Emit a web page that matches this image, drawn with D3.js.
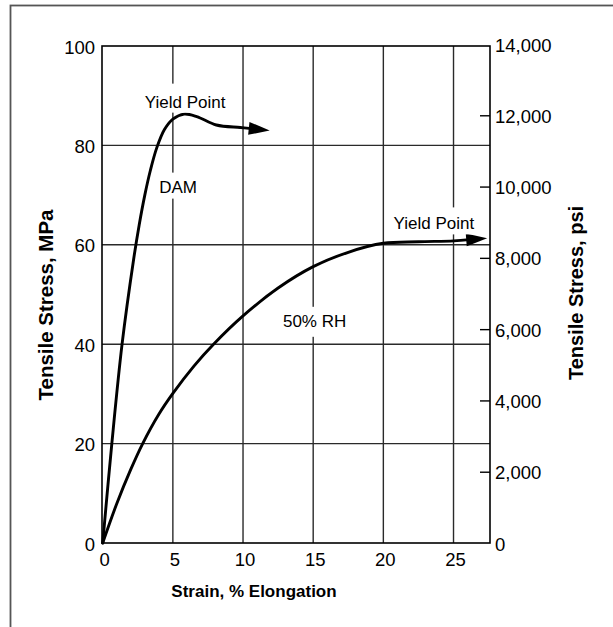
<!DOCTYPE html>
<html>
<head>
<meta charset="utf-8">
<script src="https://cdn.jsdelivr.net/npm/d3@7"></script>
<style>
  html, body { margin: 0; padding: 0; background: #fff; }
  svg { display: block; }
  text { font-family: "Liberation Sans", Arial, Helvetica, sans-serif; fill: #000; }
</style>
</head>
<body>
<svg id="chart" width="613" height="627"></svg>
<script>
// ---------- data ----------
const strainTicks = [0, 5, 10, 15, 20, 25];
const mpaTicks = [0, 20, 40, 60, 80, 100];
const psiTicks = [0, 2000, 4000, 6000, 8000, 10000, 12000, 14000];

const damStrain = [0, 0.65, 1.38, 2.2, 2.6, 3.0, 3.4, 3.85, 4.4, 5.0, 5.8, 6.7, 8.1, 9.8, 11.9];
const damStress = [0, 20, 40, 57, 64, 70, 75, 79.5, 83.2, 85.3, 86.3, 85.8, 84.1, 83.6, 83.0];

const rhStrain = [0, 1.0, 2.0, 2.85, 4.0, 5.0, 6.5, 7.9, 10.0, 12.5, 15.0, 17.5, 20.0, 22.5, 25.0, 27.4];
const rhStress = [0, 7.9, 14.8, 20, 25.9, 30.1, 35.6, 40, 45.7, 51.3, 55.6, 58.5, 60.3, 60.6, 60.8, 61.3];

const labelTexts = ["Yield Point", "DAM", "Yield Point", "50% RH"];
const labelStrain = [5.87, 5.37, 23.6, 15.1];
const labelStress = [87.6, 70.5, 63.1, 43.5];

const xTitle = "Strain, % Elongation";
const yLeftTitle = "Tensile Stress, MPa";
const yRightTitle = "Tensile Stress, psi";

// ---------- layout ----------
const svg = d3.select("#chart");
const pL = 102, pR = 490, pT = 46, pB = 543;

const x = d3.scaleLinear().domain([-0.05, 27.6]).range([pL, pR]);
const y = d3.scaleLinear().domain([0, 100]).range([pB, pT]);
const yPsi = d3.scaleLinear().domain([0, 14000]).range([pB, 44]);

// outer frame
svg.append("rect")
  .attr("x", 10.5).attr("y", 5.5).attr("width", 800).attr("height", 800)
  .attr("fill", "none").attr("stroke", "#555").attr("stroke-width", 1.8);

// gridlines
const grid = svg.append("g").attr("stroke", "#2a2a2a").attr("stroke-width", 1.4);
grid.selectAll("line.v").data(strainTicks.filter(d => d > 0)).enter().append("line")
  .attr("class", "v")
  .attr("x1", d => x(d)).attr("x2", d => x(d))
  .attr("y1", pT).attr("y2", pB);
grid.selectAll("line.h").data(mpaTicks.filter(d => d > 0 && d < 100)).enter().append("line")
  .attr("class", "h")
  .attr("x1", pL).attr("x2", pR)
  .attr("y1", d => y(d)).attr("y2", d => y(d));

// label knock-out boxes (break gridlines behind labels)
const labels = labelTexts.map((t, i) => ({ t, sx: labelStrain[i], sy: labelStress[i] }));
const pads = [[4, 24, 5], [4, 20, 6], [4, 22, 5], [4, 20, 10]]; // [horiz, above baseline, below baseline]
const lblG = svg.append("g");
const lblText = lblG.selectAll("text").data(labels).enter().append("text")
  .attr("x", d => x(d.sx)).attr("y", d => y(d.sy))
  .attr("text-anchor", "middle")
  .attr("font-size", 17)
  .text(d => d.t);
lblText.each(function (d, i) {
  const b = this.getBBox();
  const p = pads[i];
  const cy = y(d.sy);
  lblG.insert("rect", "text")
    .attr("x", b.x - p[0]).attr("width", b.width + 2 * p[0])
    .attr("y", cy - p[1]).attr("height", p[1] + p[2])
    .attr("fill", "#fff");
});

// plot border
svg.append("rect")
  .attr("x", pL).attr("y", pT).attr("width", pR - pL).attr("height", pB - pT)
  .attr("fill", "none").attr("stroke", "#000").attr("stroke-width", 1.6);

// curves with arrowheads
function drawCurve(xs, ys) {
  const pts = xs.map((v, i) => [x(v), y(ys[i])]);
  const tip = pts[pts.length - 1];
  const prev = pts[pts.length - 2];
  const ang = Math.atan2(tip[1] - prev[1], tip[0] - prev[0]);
  const L = 21, W = 6.5;
  const linePts = pts.slice(0, -1);
  linePts.push([tip[0] - (L - 3) * Math.cos(ang), tip[1] - (L - 3) * Math.sin(ang)]);
  const pxLine = d3.line().curve(d3.curveCatmullRom.alpha(0.5));
  svg.append("path").attr("d", pxLine(linePts))
    .attr("fill", "none").attr("stroke", "#000").attr("stroke-width", 2.9)
    .attr("stroke-linejoin", "round").attr("stroke-linecap", "round");
  const bx = tip[0] - L * Math.cos(ang), by = tip[1] - L * Math.sin(ang);
  const nx = -Math.sin(ang) * W, ny = Math.cos(ang) * W;
  svg.append("path")
    .attr("d", `M${tip[0]},${tip[1]}L${bx + nx},${by + ny}L${bx - nx},${by - ny}Z`)
    .attr("fill", "#000");
}
drawCurve(damStrain, damStress);
drawCurve(rhStrain, rhStress);

lblG.raise();

const tickFont = "Liberation Sans, Arial, sans-serif";

// x axis labels
const xAxis = d3.axisBottom(x).tickValues(strainTicks).tickSize(0).tickPadding(10).tickFormat(d3.format("d"));
const gx = svg.append("g").attr("transform", `translate(0,${pB})`).call(xAxis);
gx.select(".domain").remove();
gx.selectAll("text").attr("font-size", 18.5).attr("font-family", tickFont).attr("fill", "#000").attr("dx", 1.5);

// left axis labels
const yAxisL = d3.axisLeft(y).tickValues(mpaTicks).tickSize(0).tickPadding(6).tickFormat(d3.format("d"));
const gyl = svg.append("g").attr("transform", `translate(${pL - 1},0)`).call(yAxisL);
gyl.select(".domain").remove();
gyl.selectAll("text").attr("font-size", 18.5).attr("font-family", tickFont).attr("fill", "#000").attr("dy", "0.38em");

// right axis with inward ticks
const yAxisR = d3.axisRight(yPsi).tickValues(psiTicks).tickSize(0).tickPadding(5).tickFormat(d3.format(","));
const gyr = svg.append("g").attr("transform", `translate(${pR},0)`).call(yAxisR);
gyr.select(".domain").remove();
gyr.selectAll("text").attr("font-size", 18.5).attr("font-family", tickFont).attr("fill", "#000").attr("dy", "0.38em");
gyr.selectAll(".tick").filter(d => d > 0 && d < 14000).append("line")
  .attr("x1", -10).attr("x2", 0).attr("stroke", "#000").attr("stroke-width", 1.4);

// titles
svg.append("text").attr("x", 254).attr("y", 597).attr("text-anchor", "middle")
  .attr("font-size", 17).attr("font-weight", "bold").text(xTitle);
svg.append("text").attr("transform", "translate(53,305) rotate(-90)").attr("text-anchor", "middle")
  .attr("font-size", 20.5).attr("font-weight", "bold").text(yLeftTitle);
svg.append("text").attr("transform", "translate(583,293) rotate(-90)").attr("text-anchor", "middle")
  .attr("font-size", 20).attr("font-weight", "bold").text(yRightTitle);
</script>
</body>
</html>
